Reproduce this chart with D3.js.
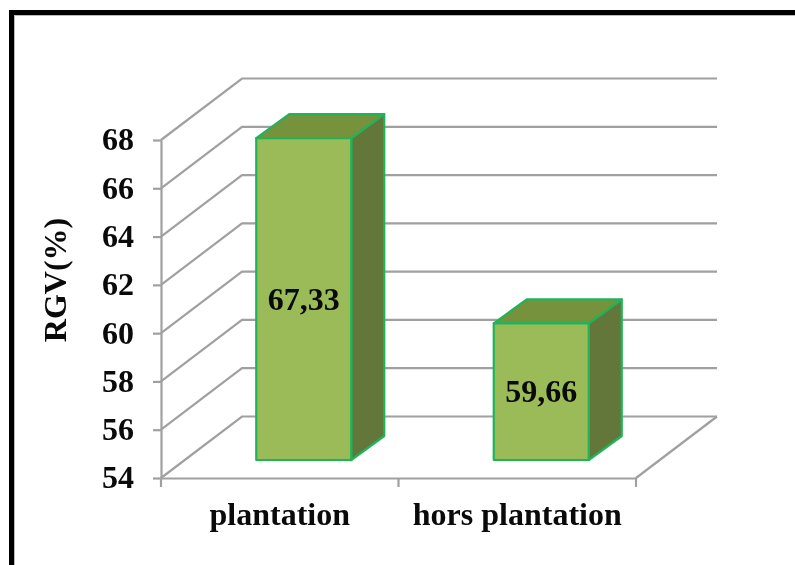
<!DOCTYPE html>
<html><head><meta charset="utf-8">
<script src="https://cdn.jsdelivr.net/npm/d3@7/dist/d3.min.js"></script>
<style>html,body{margin:0;padding:0;background:#fff}svg{display:block;filter:blur(0.45px)}text{font-family:"Liberation Serif",serif;font-weight:bold;fill:#0a0a0a}</style>
</head><body><svg id="c" width="795" height="565"></svg>
<script>
const categories = ["plantation", "hors plantation"];
const values = [67.33, 59.66];
const valueLabels = ["67,33", "59,66"];
const yTicks = [54, 56, 58, 60, 62, 64, 66, 68];
const yTitle = "RGV(%)";

const svg = d3.select("#c");
const gridCol = "#a0a0a0", edgeCol = "#1fb45a", frontCol = "#9bbb59", topCol = "#76923c", sideCol = "#63773a";
const fontSize = 32;

// frame
svg.append("path").attr("d", "M11.5,565V12.5H795").attr("fill", "none").attr("stroke", "#000").attr("stroke-width", 5);
svg.append("path").attr("d", "M14.5,565V15.5H795").attr("fill", "none").attr("stroke", "#bbb").attr("stroke-width", 1);

const x = d3.scaleBand().domain(categories).range([161, 636]);
const y = d3.scaleLinear().domain([54, 68]).range([478, 140]);
const depth = [81, -61.5];        // floor depth offset
const barDepth = [33, -24];       // bar depth offset
const inset = [24, -18];          // front-face offset from the axis plane
const barW = 95;

// gridlines with side wall
const g = svg.append("g").attr("fill", "none").attr("stroke", gridCol).attr("stroke-width", 2.2);
yTicks.forEach(t => {
  g.append("path").attr("d", d3.line()([[161, y(t)], [161 + depth[0], y(t) + depth[1]], [636 + depth[0], y(t) + depth[1]]]));
});
g.append("path").attr("d", d3.line()([[636, 478], [636 + depth[0], 478 + depth[1]]]));

// axes
const yAxis = svg.append("g").attr("transform", "translate(161,0)")
  .call(d3.axisLeft(y).tickValues(yTicks).tickSize(8).tickPadding(19).tickSizeOuter(0));
const xAxis = svg.append("g").attr("transform", "translate(0,478)")
  .call(d3.axisBottom(x).tickValues([]).tickSizeOuter(0));
svg.append("g").attr("fill", "none").attr("stroke", gridCol).attr("stroke-width", 2.2)
  .selectAll("path").data([0, 1, 2]).join("path")
  .attr("d", i => d3.line()([[x.range()[0] + i * x.step(), 478], [x.range()[0] + i * x.step(), 487]]));
[yAxis, xAxis].forEach(a => {
  a.selectAll("path,line").attr("stroke", gridCol).attr("stroke-width", 2.2);
});
yAxis.selectAll("text").attr("font-size", fontSize).attr("dy", "0.31em");
yAxis.attr("font-family", null).attr("font-size", null);

// bars
const bars = svg.append("g");
values.forEach((v, i) => {
  const xl = x(categories[i]) + x.bandwidth() / 2 - barW / 2 + inset[0];
  const xr = xl + barW;
  const yb = y(54) + inset[1];
  const yt = y(v) + inset[1];
  const dx = barDepth[0], dy = barDepth[1];
  const b = bars.append("g").attr("stroke", edgeCol).attr("stroke-width", 2.2).attr("stroke-linejoin", "round");
  b.append("path").attr("fill", sideCol).attr("d", d3.line()([[xr, yt], [xr + dx, yt + dy], [xr + dx, yb + dy], [xr, yb]]) + "Z");
  b.append("path").attr("fill", topCol).attr("d", d3.line()([[xl, yt], [xl + dx, yt + dy], [xr + dx, yt + dy], [xr, yt]]) + "Z");
  b.append("path").attr("fill", frontCol).attr("d", d3.line()([[xl, yt], [xr, yt], [xr, yb], [xl, yb]]) + "Z");
  svg.append("text").attr("x", (xl + xr) / 2).attr("y", (yt + yb) / 2 + 10.5)
    .attr("text-anchor", "middle").attr("font-size", fontSize).text(valueLabels[i]);
});

// category labels
svg.append("g").selectAll("text").data(categories).join("text")
  .attr("x", d => x(d) + x.bandwidth() / 2).attr("y", 525).attr("text-anchor", "middle")
  .attr("font-size", fontSize).text(d => d);

// y title
svg.append("text").attr("transform", "translate(66,280) rotate(-90)")
  .attr("text-anchor", "middle").attr("font-size", fontSize).text(yTitle);
</script></body></html>
